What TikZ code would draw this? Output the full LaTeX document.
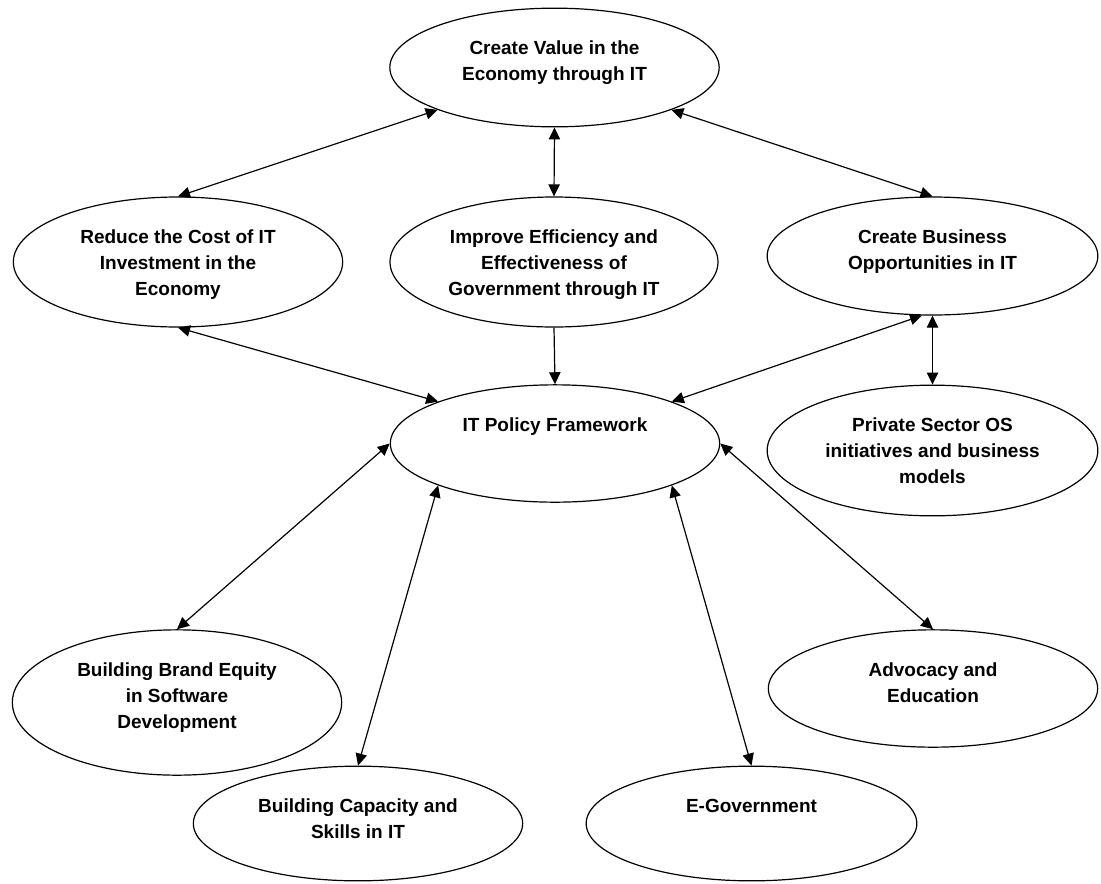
\documentclass[tikz,border=0pt]{standalone}
\usepackage{fontspec}
\setmainfont{Liberation Sans}
\usepackage{tikz}
\usetikzlibrary{positioning, arrows.meta, shapes.geometric}
\def\both{\draw[{Triangle[length=9pt, width=8.5pt]}-{Triangle[length=9pt, width=8.5pt]}, line width=0.9pt]}
\def\oneway{\draw[-{Triangle[length=9pt, width=8.5pt]}, line width=0.9pt]}

\begin{document}
\begin{tikzpicture}[x=0.75pt, y=-0.75pt,
    goal/.style={ellipse, draw, line width=0.9pt, inner sep=0pt},
    caption/.style={anchor=north, align=center, inner sep=0pt,
        font=\fontsize{14.25pt}{19.5pt}\selectfont\bfseries}]
            \useasboundingbox (0,0) rectangle (1101,883);

            \node [goal, minimum width=247pt, minimum height=89pt] (value) at (554.5,67.5) {};
            \node [goal, minimum width=247pt, minimum height=97.5pt] (cost) at (178,262) {};
            \node [goal, minimum width=246pt, minimum height=97.5pt] (efficiency) at (554,262) {};
            \node [goal, minimum width=248pt, minimum height=88.5pt] (business) at (932.5,256) {};
            \node [goal, minimum width=247pt, minimum height=88pt] (policy) at (555,443.5) {};
            \node [goal, minimum width=248pt, minimum height=98pt] (private) at (932.5,450.5) {};
            \node [goal, minimum width=247pt, minimum height=109pt] (brand) at (177,702.5) {};
            \node [goal, minimum width=247pt, minimum height=88pt] (advocacy) at (933,688.5) {};
            \node [goal, minimum width=247pt, minimum height=86pt] (capacity) at (358,823.5) {};
            \node [goal, minimum width=248pt, minimum height=86pt] (egov) at (751.5,823.5) {};

            \node [caption] (valuetext) at ([yshift=-25pt]value.north) {Create Value in the\\Economy through IT};
            \node [caption] (costtext) at ([yshift=-25pt]cost.north) {Reduce the Cost of IT\\Investment in the\\Economy};
            \node [caption] (efficiencytext) at ([yshift=-25pt]efficiency.north) {Improve Efficiency and\\Effectiveness of\\Government through IT};
            \node [caption] (businesstext) at ([yshift=-25pt]business.north) {Create Business\\Opportunities in IT};
            \node [caption] (policytext) at ([yshift=-25pt]policy.north) {IT Policy Framework};
            \node [caption] (privatetext) at ([yshift=-25pt]private.north) {Private Sector OS\\initiatives and business\\models};
            \node [caption] (brandtext) at ([yshift=-25pt]brand.north) {Building Brand Equity\\in Software\\Development};
            \node [caption] (advocacytext) at ([yshift=-25pt]advocacy.north) {Advocacy and\\Education};
            \node [caption] (capacitytext) at ([yshift=-25pt]capacity.north) {Building Capacity and\\Skills in IT};
            \node [caption] (egovtext) at ([yshift=-25pt]egov.north) {E-Government};

            \both (value.south west) -- (cost.north);
            \both (value.south) -- (efficiency.north);
            \both (value.south east) -- (business.north);
            \both (cost.south) -- (policy.north west);
            \oneway (efficiency.south) -- (policy.north);
            \both (business.260) -- (policy.north east);
            \both (business.south) -- (private.north);
            \both (policy.west) -- (brand.north);
            \both (policy.south west) -- (capacity.north);
            \both (policy.south east) -- (egov.north);
            \both (policy.east) -- (advocacy.north);
        \end{tikzpicture}
\end{document}
